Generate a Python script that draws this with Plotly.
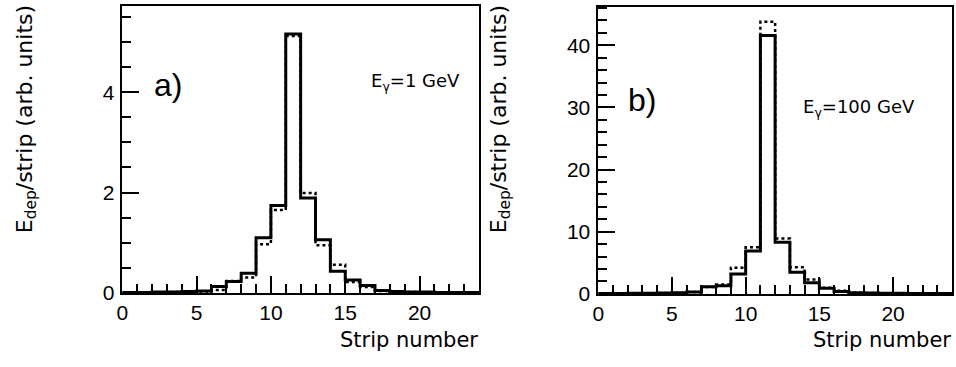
import numpy as np
import plotly.graph_objects as go

# ---- data ----
strips = list(range(24))  # bin lower edges (strip number)
solid_a = [0.01, 0.01, 0.02, 0.02, 0.03, 0.04, 0.13, 0.23, 0.39, 1.10, 1.74, 5.16,
           1.89, 1.06, 0.43, 0.26, 0.15, 0.05, 0.03, 0.02, 0.02, 0.01, 0.01, 0.01]
dotted_a = [0.01, 0.01, 0.01, 0.02, 0.02, 0.03, 0.06, 0.24, 0.31, 0.97, 1.65, 5.12,
            1.99, 0.95, 0.56, 0.22, 0.12, 0.04, 0.02, 0.02, 0.01, 0.01, 0.01, 0.01]
solid_b = [0.05, 0.05, 0.1, 0.1, 0.15, 0.2, 0.3, 1.14, 1.3, 3.2, 6.9, 41.6,
           8.3, 3.5, 1.8, 0.9, 0.4, 0.2, 0.15, 0.1, 0.1, 0.05, 0.05, 0.05]
dotted_b = [0.05, 0.05, 0.1, 0.1, 0.15, 0.2, 0.3, 1.1, 1.5, 4.2, 7.5, 43.8,
            8.9, 4.3, 2.3, 1.0, 0.5, 0.2, 0.15, 0.1, 0.1, 0.05, 0.05, 0.05]
x_ticks = [0, 5, 10, 15, 20]
y_ticks_a = [0, 2, 4]
y_ticks_b = [0, 10, 20, 30, 40]
ytitle = "E<sub>dep</sub>/strip (arb. units)"
xtitle = "Strip number"

W, H = 956, 367
FONT = "Liberation Sans"
FONT2 = "DejaVu Sans"


def step(vals):
    edges = list(strips) + [strips[-1] + 1]
    return edges, list(vals) + [vals[-1]]


fig = go.Figure()
for vals, dash, w, xa, ya in [
    (dotted_a, "dot", 2.5, "x", "y"),
    (solid_a, "solid", 3, "x", "y"),
    (dotted_b, "dot", 2.5, "x2", "y2"),
    (solid_b, "solid", 3, "x2", "y2"),
]:
    ex, ey = step(vals)
    fig.add_trace(go.Scatter(x=ex, y=ey, mode="lines", line_shape="hv",
                             line=dict(color="black", width=w, dash=dash),
                             xaxis=xa, yaxis=ya, showlegend=False, hoverinfo="skip"))

def px_x(p):
    return p / W

def px_y(p):
    return 1 - p / H

ax_common = dict(showline=True, mirror=True, linecolor="black", linewidth=1.5,
                 ticks="inside", tickcolor="black", tickwidth=1.5, showgrid=False,
                 zeroline=False, tickfont=dict(family=FONT, size=21, color="black"))
minor_x = dict(dtick=1, ticklen=9, ticks="inside", tickcolor="black", tickwidth=1.5)

fig.update_layout(
    width=W, height=H, margin=dict(l=0, r=0, t=0, b=0),
    paper_bgcolor="white", plot_bgcolor="white",
    xaxis=dict(domain=[px_x(117), px_x(476)], range=[0, 24], tickvals=x_ticks, ticklen=17,
               minor=minor_x, anchor="y", **ax_common),
    yaxis=dict(domain=[px_y(302), px_y(6)], range=[0, 5.72], tickvals=y_ticks_a, ticklen=17,
               minor=dict(dtick=0.5, ticklen=9, ticks="inside", tickcolor="black", tickwidth=1.5),
               ticklabelstandoff=2, anchor="x", **ax_common),
    xaxis2=dict(domain=[px_x(596), px_x(952)], range=[0, 24], tickvals=x_ticks, ticklen=17,
                minor=minor_x, anchor="y2", **ax_common),
    yaxis2=dict(domain=[px_y(303), px_y(7)], range=[0, 46.2], tickvals=y_ticks_b, ticklen=17,
                minor=dict(dtick=2, ticklen=9, ticks="inside", tickcolor="black", tickwidth=1.5),
                ticklabelstandoff=2, anchor="x2", **ax_common),
)

ann = []
for xc in (20, 497):
    ann.append(dict(x=px_x(xc), y=px_y(123), xref="paper", yref="paper", text=ytitle,
                    textangle=-90, showarrow=False, xanchor="center", yanchor="middle",
                    font=dict(family=FONT2, size=22, color="black")))
for xr in (477, 953):
    ann.append(dict(x=px_x(xr), y=px_y(351), xref="paper", yref="paper", text=xtitle,
                    showarrow=False, xanchor="right", yanchor="middle",
                    font=dict(family=FONT2, size=21, color="black")))
ann.append(dict(x=px_x(147), y=px_y(88), xref="paper", yref="paper", text="a)",
                showarrow=False, xanchor="left", yanchor="middle",
                font=dict(family=FONT, size=32, color="black")))
ann.append(dict(x=px_x(624), y=px_y(103), xref="paper", yref="paper", text="b)",
                showarrow=False, xanchor="left", yanchor="middle",
                font=dict(family=FONT, size=32, color="black")))
ann.append(dict(x=px_x(365), y=px_y(85), xref="paper", yref="paper", text="E<sub>γ</sub>=1 GeV",
                showarrow=False, xanchor="left", yanchor="middle",
                font=dict(family=FONT2, size=18, color="black")))
ann.append(dict(x=px_x(800), y=px_y(111), xref="paper", yref="paper", text="E<sub>γ</sub>=100 GeV",
                showarrow=False, xanchor="left", yanchor="middle",
                font=dict(family=FONT2, size=18, color="black")))
fig.update_layout(annotations=ann)

fig.write_html("out.html", config={"displayModeBar": False},
               post_script="document.body.style.margin='0';document.body.style.overflow='hidden';")
